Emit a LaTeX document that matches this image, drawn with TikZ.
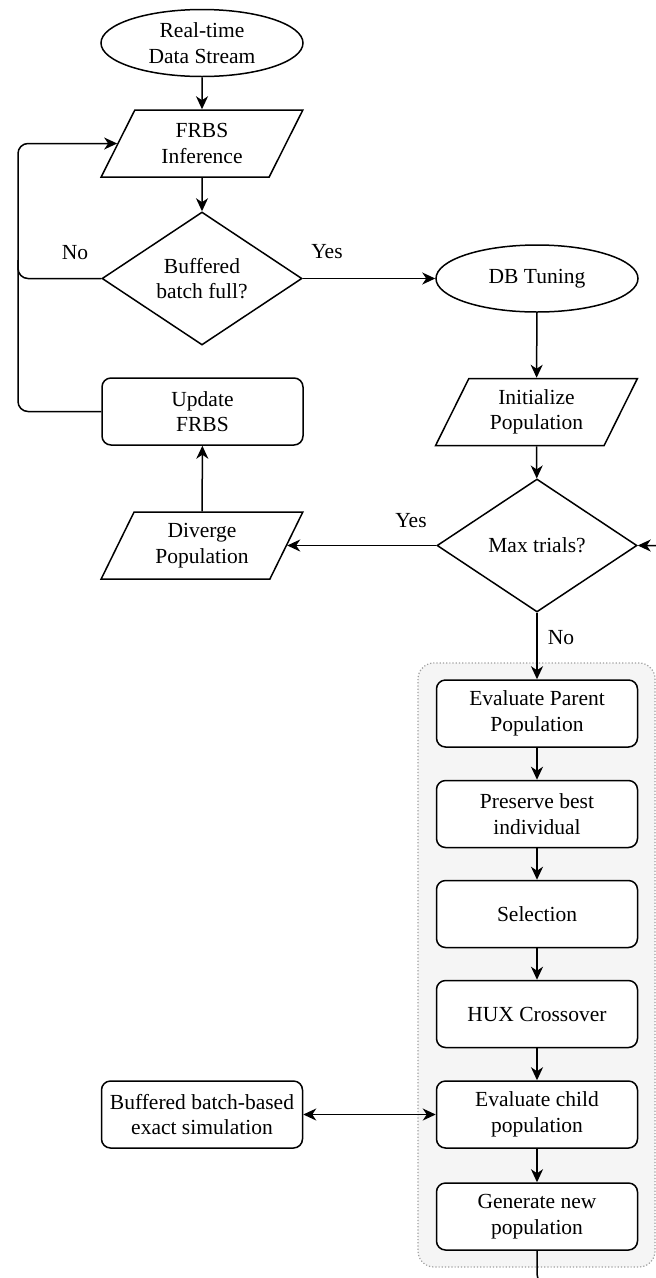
\documentclass[tikz,border=0pt]{standalone}
\usepackage{fontspec}
\setmainfont{Liberation Serif}
\usetikzlibrary{shapes.geometric,arrows.meta}

\tikzset{
  base/.style={draw, line width=1.5pt, align=center, inner sep=0pt,
    font=\fontsize{21.5}{25.5}\selectfont},
  terminal/.style={base, ellipse, minimum width=202pt, minimum height=67pt},
  io/.style={base, trapezium, trapezium left angle=63, trapezium right angle=117,
    trapezium stretches=true, minimum width=202pt, minimum height=67pt},
  decision/.style={base, diamond, minimum width=200pt, minimum height=133pt},
  process/.style={base, rectangle, rounded corners=9pt, minimum width=201pt,
    minimum height=67pt, fill=white},
  conn/.style={line width=1.5pt},
  arr/.style={conn, -{Stealth[length=13pt, width=12pt, inset=4pt]}},
  darr/.style={conn, {Stealth[length=13pt, width=12pt, inset=4pt]}-{Stealth[length=13pt, width=12pt, inset=4pt]}},
  lbl/.style={font=\fontsize{21.5}{25.5}\selectfont, inner sep=0pt},
}

\begin{document}
\begin{tikzpicture}[x=1pt, y=-1pt]
\useasboundingbox (0,0) rectangle (656,1278);
\clip (0,0) rectangle (656,1278);

% genetic-algorithm loop container
\draw[fill=gray!8, draw=gray!75, line width=1.2pt, dotted, rounded corners=16pt]
  (418,663) rectangle (655,1267);

% left column
\node[terminal] (src) at (202,43) {Real-time\\Data Stream};
\node[io] (inf) at (202,143.5) {FRBS\\Inference};
\node[decision] (full) at (202,278.5) {Buffered\\batch full?};
\node[process] (upd) at (202.5,411.5) {Update\\FRBS};
\node[io] (div) at (202,545.5) {Diverge\\Population};

% right column
\node[terminal] (db) at (537,278.5) {DB Tuning};
\node[io] (init) at (536.5,412) {Initialize\\Population};
\node[decision] (maxt) at (537,545.5) {Max trials?};

\node[process] (evp) at (537,713.5) {Evaluate Parent\\Population};
\node[process] (pres) at (537,814) {Preserve best\\individual};
\node[process] (sel) at (537,914) {Selection};
\node[process] (hux) at (537,1014) {HUX Crossover};
\node[process] (evc) at (537,1114.5) {Evaluate child\\population};
\node[process] (gen) at (537,1216.5) {Generate new\\population};

\node[process] (sim) at (202,1114.5) {Buffered batch-based\\exact simulation};

% branch labels
\node[lbl] (no1) at (75,253) {No};
\node[lbl] (yes1) at (327,252) {Yes};
\node[lbl] (yes2) at (411,521) {Yes};
\node[lbl] (no2) at (561,638) {No};

% connectors
\draw[arr] (src) -- (inf);
\draw[arr] (inf) -- (full);
\draw[arr, rounded corners=10pt] (full.west) -| (18,143.5) -- (inf.left side);
\draw[conn, rounded corners=10pt] (upd.west) -| (18,260);
\draw[arr] (full.east) -- (db.west);
\draw[arr] (db) -- (init);
\draw[arr] (init) -- (maxt);
\draw[arr] (maxt.west) -- (div.right side);
\draw[arr] (div) -- (upd);
\draw[arr] (maxt.south) -- (evp.north);
\draw[arr] (evp) -- (pres);
\draw[arr] (pres) -- (sel);
\draw[arr] (sel) -- (hux);
\draw[arr] (hux) -- (evc);
\draw[arr] (evc) -- (gen);
\draw[darr] (sim.east) -- (evc.west);

% return path from the last step back to the trial check
\coordinate (loopB) at (680,1284);
\coordinate (loopR) at (680,545.5);
\draw[arr, rounded corners=10pt] (gen.south) |- (loopB) -- (loopR) -- (maxt.east);
\end{tikzpicture}
\end{document}
